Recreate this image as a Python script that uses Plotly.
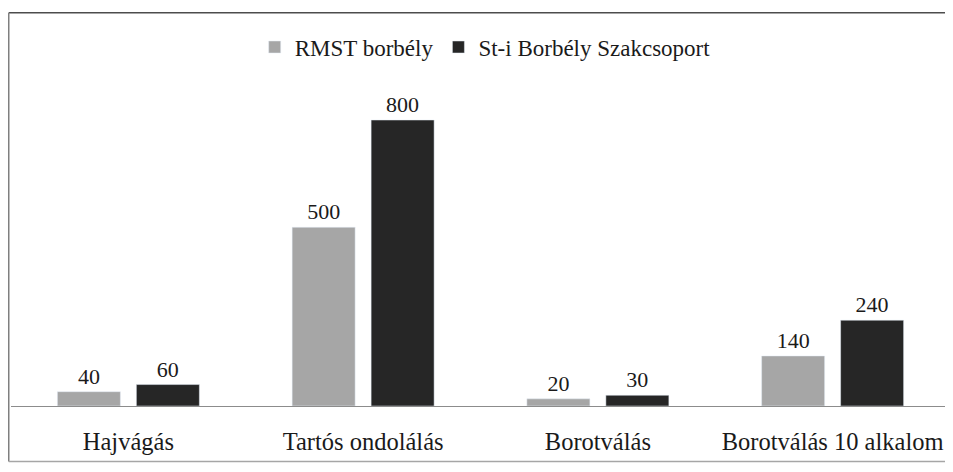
import plotly.graph_objects as go

categories = ['Hajvágás', 'Tartós ondolálás', 'Borotválás', 'Borotválás 10 alkalom']
rmst = [40, 500, 20, 140]
szakcsoport = [60, 800, 30, 240]
series_names = ['RMST borbély', 'St-i Borbély Szakcsoport']

serif = 'Liberation Serif'
ink = '#1a1a1a'

fig = go.Figure(data=[
    go.Bar(name=series_names[0], x=categories, y=rmst, marker_color='#a6a6a6',
           text=rmst, textposition='outside', cliponaxis=False,
           textfont=dict(size=22, color=ink, family=serif)),
    go.Bar(name=series_names[1], x=categories, y=szakcsoport, marker_color='#262626',
           text=szakcsoport, textposition='outside', cliponaxis=False,
           textfont=dict(size=22, color=ink, family=serif)),
])

# the page body has an 8px margin; plot area in figure pixels: x 3..942, y 92..398
frame = dict(type='line', xref='paper', yref='paper')
fig.update_layout(
    width=945, height=456,
    margin=dict(l=3, r=3, t=92, b=58),
    paper_bgcolor='white', plot_bgcolor='white',
    font=dict(family=serif, color=ink),
    barmode='group', bargap=0.327, bargroupgap=0.2025,
    showlegend=True,
    legend=dict(orientation='h', x=0.505, xanchor='center', y=1.173, yanchor='middle',
                font=dict(size=23, family=serif, color=ink), itemwidth=30,
                bgcolor='rgba(0,0,0,0)'),
    xaxis=dict(showline=True, linecolor='#8c8c8c', linewidth=1, ticks='',
               tickfont=dict(size=24.5, family=serif, color=ink),
               ticklabelstandoff=14, showgrid=False),
    yaxis=dict(range=[0, 856], visible=False, showgrid=False, zeroline=False),
    shapes=[
        dict(frame, x0=-0.0024, x1=1.01, y0=1.285, y1=1.285, line=dict(color='#4d4d4d', width=1.5)),
        dict(frame, x0=-0.0024, x1=-0.0024, y0=-0.181, y1=1.285, line=dict(color='#7f7f7f', width=1.5)),
        dict(frame, x0=-0.0024, x1=1.01, y0=-0.181, y1=-0.181, line=dict(color='#a6a6a6', width=1.5)),
    ],
)

fig.write_html('out.html')
